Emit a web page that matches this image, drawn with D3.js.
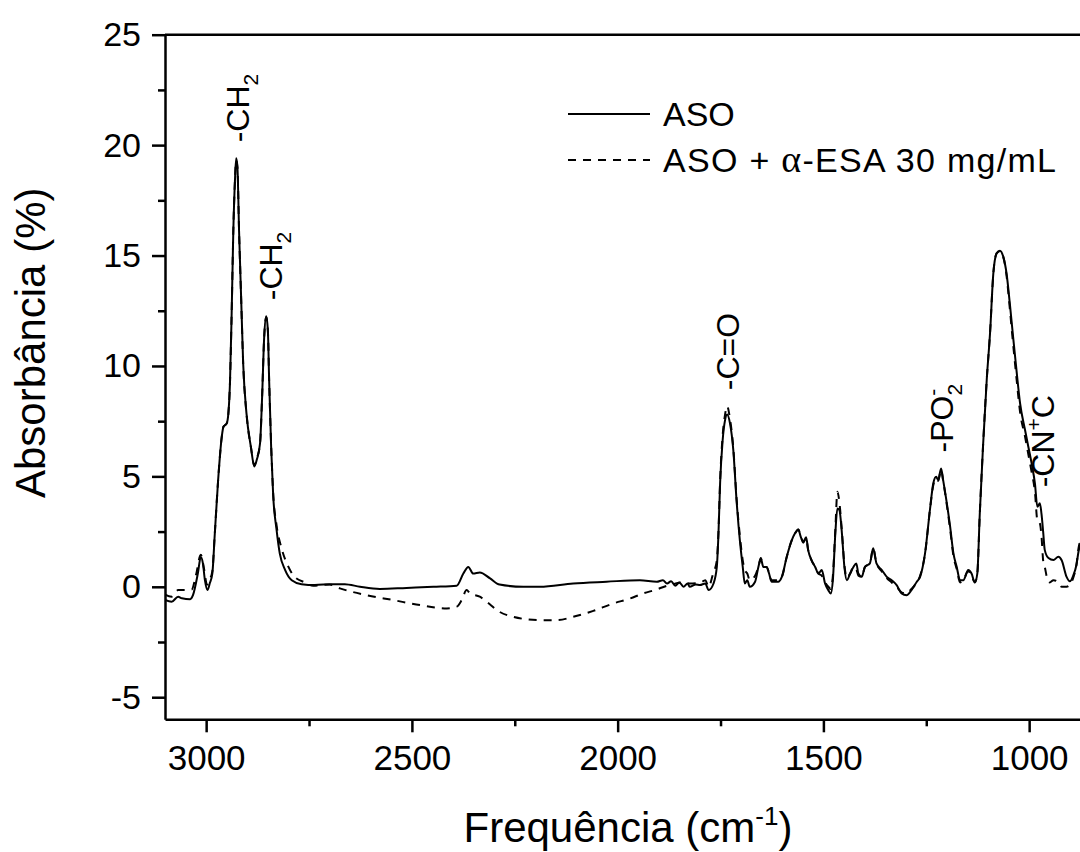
<!DOCTYPE html>
<html>
<head>
<meta charset="utf-8">
<script src="https://cdn.jsdelivr.net/npm/d3@7"></script>
<style>
  html, body { margin: 0; padding: 0; background: #fff; }
  svg { display: block; font-family: "Liberation Sans", Arial, sans-serif; }
</style>
</head>
<body>
<svg id="chart" width="1080" height="852"></svg>
<script>
// FTIR spectra: wavenumber (cm-1) and absorbance (%)
const asoWn = [3100,3084,3068,3059,3039,3032,3020,3013,3008,3003,2997,2991,2985,2979,2971,2962,2958,2950,2946,2942,2938,2934,2930,2927,2924,2920,2915,2910,2902,2891,2883,2877,2869,2864,2859,2854,2850,2847,2842,2837,2829,2821,2808,2792,2768,2736,2695,2663,2626,2578,2513,2448,2391,2375,2363,2351,2335,2310,2287,2229,2189,2108,2027,1946,1905,1890,1880,1870,1860,1850,1840,1830,1825,1810,1800,1787,1779,1767,1759,1755,1751,1745,1739,1734,1727,1719,1711,1703,1696,1691,1685,1679,1666,1658,1652,1646,1638,1632,1626,1610,1601,1589,1577,1569,1561,1555,1549,1542,1537,1529,1520,1512,1504,1496,1488,1482,1477,1471,1466,1461,1455,1449,1443,1435,1427,1420,1415,1407,1399,1387,1379,1371,1358,1346,1334,1322,1310,1298,1286,1273,1265,1253,1241,1233,1226,1221,1214,1209,1200,1192,1184,1176,1168,1160,1148,1140,1132,1126,1120,1112,1103,1095,1087,1079,1071,1063,1055,1047,1039,1030,1022,1010,1002,994,986,980,974,970,966,962,953,941,929,921,909,901,893,885,880,870];
const asoAbs = [-0.6,-0.68,-0.45,-0.52,-0.56,-0.38,0.62,1.35,1.07,0.3,-0.15,0.17,0.6,2.4,4.8,6.8,7.25,7.4,7.85,9.3,12.4,16.1,18.4,19.4,19.0,16.1,13.1,10.1,7.85,6.3,5.45,5.75,6.5,8.6,11.3,12.25,11.6,9.4,6.3,4.1,2.6,1.5,0.76,0.3,0.12,0.08,0.12,0.12,0.0,-0.1,-0.05,0.0,0.05,0.6,0.9,0.6,0.65,0.38,0.1,0.0,0.0,0.15,0.23,0.3,0.23,0.3,0.15,0.25,0.05,0.2,0.0,0.15,0.0,0.1,0.08,0.15,-0.15,0.15,0.9,2.4,4.7,6.6,7.55,7.8,7.4,6.2,3.9,2.1,0.9,0.15,0.3,0.0,0.23,0.9,1.28,0.9,0.9,0.6,0.23,0.23,0.45,1.36,2.1,2.42,2.6,2.26,2.04,2.24,1.66,1.21,0.9,0.6,0.76,0.15,-0.15,-0.3,0.3,2.42,3.55,3.47,2.42,0.9,0.3,0.6,0.9,1.06,0.6,0.45,0.9,1.06,1.74,1.06,0.76,0.45,0.3,0.08,-0.3,-0.38,-0.15,0.23,0.45,1.51,3.5,4.68,4.98,4.83,5.36,4.83,3.78,2.72,1.51,0.9,0.3,0.3,0.76,0.6,0.2,0.6,3.3,6.4,9.4,11.5,14.2,15.1,15.22,14.95,14.2,12.83,11.32,9.66,8.3,7.1,6.34,5.59,4.68,3.62,3.78,3.3,2.5,1.66,1.3,1.21,1.36,1.2,0.45,0.25,0.5,1.0,1.6,2.2];

const esaWn = [3100,3084,3068,3050,3035,3025,3013,3005,2998,2991,2985,2979,2971,2962,2958,2950,2946,2942,2938,2934,2930,2927,2924,2920,2915,2910,2902,2891,2883,2877,2869,2864,2859,2854,2850,2847,2842,2837,2829,2816,2800,2785,2760,2740,2700,2675,2610,2546,2480,2415,2391,2379,2367,2359,2335,2310,2294,2254,2189,2148,2108,2059,2010,1970,1938,1905,1880,1865,1845,1825,1800,1787,1779,1768,1759,1755,1751,1745,1739,1734,1727,1719,1711,1703,1696,1691,1685,1679,1666,1658,1652,1646,1638,1632,1626,1610,1601,1589,1577,1569,1561,1555,1549,1542,1537,1529,1520,1512,1504,1496,1488,1482,1477,1471,1466,1461,1455,1449,1443,1435,1427,1420,1415,1407,1399,1387,1379,1371,1358,1346,1334,1322,1310,1298,1286,1273,1265,1253,1241,1233,1226,1221,1214,1209,1200,1192,1184,1176,1168,1160,1148,1140,1132,1126,1120,1112,1103,1095,1087,1079,1071,1063,1055,1047,1039,1030,1022,1010,1002,994,986,980,974,970,966,962,955,950,941,929,921,909,901,893,885,880,870];
const esaAbs = [-0.35,-0.45,-0.15,-0.15,-0.12,0.5,1.45,0.8,0.1,0.35,0.7,2.4,4.8,6.8,7.25,7.4,7.85,9.3,12.4,16.1,18.4,19.3,19.0,16.1,13.1,10.1,7.85,6.3,5.5,5.8,6.5,8.6,11.3,12.2,11.6,9.4,6.4,4.2,2.8,1.7,0.9,0.45,0.2,0.05,0.1,-0.07,-0.38,-0.6,-0.83,-0.98,-0.9,-0.6,-0.15,-0.29,-0.45,-0.8,-1.05,-1.36,-1.51,-1.51,-1.36,-1.09,-0.75,-0.53,-0.3,-0.12,0.05,0.12,0.2,0.15,0.18,0.3,0.0,0.6,1.2,2.5,4.8,6.8,7.8,8.18,7.6,6.3,4.0,2.3,1.2,0.76,0.6,0.3,0.5,0.9,1.3,0.9,0.9,0.6,0.3,0.3,0.45,1.36,2.1,2.42,2.6,2.3,2.0,2.2,1.66,1.21,0.9,0.6,0.5,0.2,0.0,-0.1,0.5,2.6,4.3,3.8,2.5,1.0,0.4,0.6,0.9,0.8,0.5,0.45,0.9,1.06,1.74,1.06,0.7,0.4,0.2,0.0,-0.25,-0.3,-0.1,0.2,0.5,1.5,3.5,4.6,4.9,4.8,5.3,4.8,3.7,2.6,1.4,0.8,0.2,0.3,0.7,0.5,0.2,0.6,3.3,6.4,9.4,11.5,14.2,15.1,15.2,14.95,14.1,12.6,11.0,9.3,7.9,6.8,6.0,5.2,4.3,3.0,2.87,2.3,1.2,0.9,0.3,0.2,0.3,0.2,0.0,0.0,0.1,0.4,1.0,1.75,2.3];

const seriesNames = ["ASO", "ASO + α-ESA 30 mg/mL"];

// Axis ticks
const xMajorTicks = [3000, 2500, 2000, 1500, 1000];
const xMinorTicks = [2750, 2250, 1750, 1250];
const yMajorTicks = [-5, 0, 5, 10, 15, 20, 25];
const yMinorTicks = [-2.5, 2.5, 7.5, 12.5, 17.5, 22.5];

// Band assignments: wavenumber and absorbance the label sits above
const bandLabels = [
  { wn: 2926, abs: 19.4, parts: [["-CH", ""], ["2", "sub"]] },
  { wn: 2844, abs: 12.25, parts: [["-CH", ""], ["2", "sub"]] },
  { wn: 1734, abs: 8.18, parts: [["-C=O", ""]] },
  { wn: 1214, abs: 5.36, parts: [["-PO", ""], ["2", "sub"], ["-", "supback"]] },
  { wn: 968, abs: 3.78, parts: [["-CN", ""], ["+", "sup"], ["C", "after"]] }
];

const svg = d3.select("#chart");
const plotLeft = 165, plotTop = 34.7, plotBottom = 719.3;
const x = d3.scaleLinear().domain([3100, 850]).range([plotLeft, plotLeft + 2250 * 0.4115]);
const y = d3.scaleLinear().domain([-6, 25]).range([plotBottom, plotTop]);

// Frame lines (top and right)
svg.append("line").attr("x1", x(3100)).attr("x2", x(850)).attr("y1", plotTop).attr("y2", plotTop)
  .attr("stroke", "#000").attr("stroke-width", 2.5);
svg.append("line").attr("x1", x(850)).attr("x2", x(850)).attr("y1", plotTop).attr("y2", plotBottom)
  .attr("stroke", "#000").attr("stroke-width", 2.5);

function styleAxis(g) {
  g.select(".domain").attr("stroke", "#000").attr("stroke-width", 2.5);
  g.selectAll(".tick line").attr("stroke", "#000").attr("stroke-width", 2.5);
}
const plainNum = d => String(d);

// Bottom axis
const gx = svg.append("g").attr("transform", `translate(0,${plotBottom})`)
  .call(d3.axisBottom(x).tickValues(xMajorTicks).tickSize(13).tickPadding(13).tickSizeOuter(0).tickFormat(plainNum));
styleAxis(gx);
gx.selectAll("text").attr("font-size", 35).attr("fill", "#000")
  .attr("font-family", "Liberation Sans, Arial, sans-serif");
svg.append("g").attr("transform", `translate(0,${plotBottom})`)
  .call(d3.axisBottom(x).tickValues(xMinorTicks).tickSize(7).tickFormat("").tickSizeOuter(0))
  .call(g => { g.select(".domain").remove(); g.selectAll(".tick line").attr("stroke", "#000").attr("stroke-width", 2.5); });

// Left axis
const gy = svg.append("g").attr("transform", `translate(${plotLeft},0)`)
  .call(d3.axisLeft(y).tickValues(yMajorTicks).tickSize(13).tickPadding(11).tickSizeOuter(0).tickFormat(plainNum));
styleAxis(gy);
gy.selectAll("text").attr("font-size", 34).attr("fill", "#000")
  .attr("font-family", "Liberation Sans, Arial, sans-serif");
svg.append("g").attr("transform", `translate(${plotLeft},0)`)
  .call(d3.axisLeft(y).tickValues(yMinorTicks).tickSize(7).tickFormat("").tickSizeOuter(0))
  .call(g => { g.select(".domain").remove(); g.selectAll(".tick line").attr("stroke", "#000").attr("stroke-width", 2.5); });

// Spectra
svg.append("clipPath").attr("id", "plot-clip")
  .append("rect").attr("x", plotLeft).attr("y", plotTop).attr("width", x(850) - plotLeft).attr("height", plotBottom - plotTop);

const line = d3.line().x(d => x(d[0])).y(d => y(d[1])).curve(d3.curveMonotoneX);
const asoData = asoWn.map((w, i) => [w, asoAbs[i]]);
const esaData = esaWn.map((w, i) => [w, esaAbs[i]]);

const plot = svg.append("g").attr("clip-path", "url(#plot-clip)");
plot.append("path").datum(esaData).attr("d", line)
  .attr("fill", "none").attr("stroke", "#000").attr("stroke-width", 2).attr("stroke-dasharray", "8,7");
plot.append("path").datum(asoData).attr("d", line)
  .attr("fill", "none").attr("stroke", "#000").attr("stroke-width", 2);

// Band labels, written vertically above each peak
bandLabels.forEach(b => {
  const t = svg.append("text")
    .attr("transform", `translate(${x(b.wn) + 12},${y(b.abs) - 16}) rotate(-90)`)
    .attr("font-size", 32).attr("fill", "#000");
  let shifted = 0;
  b.parts.forEach(([s, kind]) => {
    const ts = t.append("tspan").text(s);
    if (kind === "sub") { ts.attr("font-size", 21).attr("dy", 9 - shifted); shifted = 9; }
    else if (kind === "sup") { ts.attr("font-size", 21).attr("dy", -13 - shifted); shifted = -13; }
    else if (kind === "supback") { ts.attr("font-size", 21).attr("dx", -12).attr("dy", -22); shifted = -13; }
    else if (kind === "after") { ts.attr("dy", -shifted); shifted = 0; }
  });
});

// Legend
const legendY = [114, 160];
seriesNames.forEach((name, i) => {
  svg.append("line").attr("x1", 568).attr("x2", 650).attr("y1", legendY[i]).attr("y2", legendY[i])
    .attr("stroke", "#000").attr("stroke-width", 2)
    .attr("stroke-dasharray", i === 1 ? "8,7" : null);
  const t = svg.append("text").attr("x", 663).attr("y", legendY[i] + 12)
    .attr("font-size", 34).attr("fill", "#000");
  if (name.includes("α")) {
    const [a, b] = name.split("α");
    t.attr("textLength", 393).attr("lengthAdjust", "spacing");
    t.append("tspan").text(a);
    t.append("tspan").text("α").attr("font-family", "Liberation Serif, Times New Roman, serif").attr("font-size", 38);
    t.append("tspan").text(b);
  } else {
    t.text(name);
  }
});

// Axis titles
const xt = svg.append("text").attr("x", (x(3100) + x(850)) / 2).attr("y", 842)
  .attr("text-anchor", "middle").attr("font-size", 42).attr("fill", "#000");
xt.append("tspan").text("Frequência (cm");
xt.append("tspan").text("-1").attr("font-size", 26).attr("dy", -17);
xt.append("tspan").text(")").attr("dy", 17);

svg.append("text").attr("transform", "translate(45,498) rotate(-90)")
  .attr("font-size", 42).attr("fill", "#000").text("Absorbância (%)");
</script>
</body>
</html>
